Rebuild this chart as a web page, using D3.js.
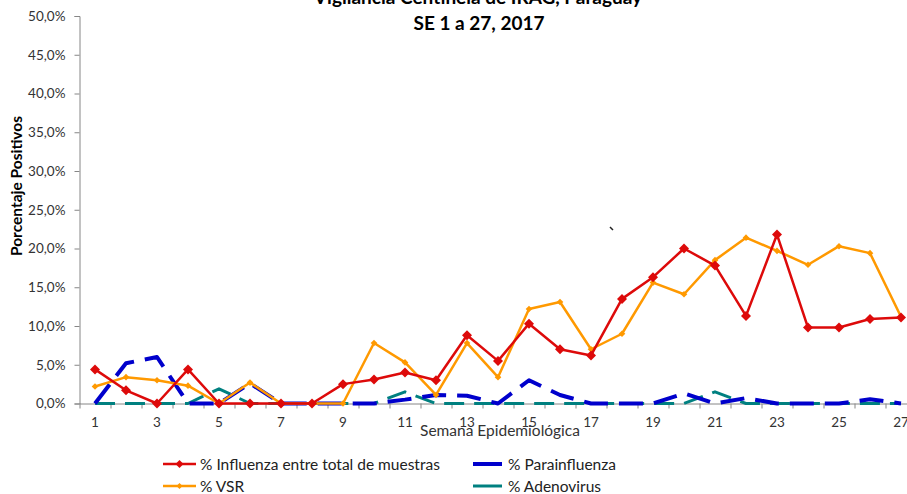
<!DOCTYPE html>
<html>
<head>
<meta charset="utf-8">
<script src="https://cdn.jsdelivr.net/npm/d3@7"></script>
<style>
  body { margin: 0; background: #fff; }
  text { font-family: Lato, "Liberation Sans", sans-serif; fill: #222; }
</style>
</head>
<body>
<div id="chart"></div>
<script>
// semanas epidemiologicas 1..27
var weeks = d3.range(1, 28);
var yTicks = [0, 5, 10, 15, 20, 25, 30, 35, 40, 45, 50];

var influenza = [4.4, 1.7, 0, 4.4, 0, 0, 0, 0, 2.5, 3.1, 4.0, 3.0, 8.8, 5.5, 10.3, 7.0, 6.2, 13.5, 16.3, 20.0, 17.8, 11.3, 21.8, 9.8, 9.8, 10.9, 11.1];
var vsr = [2.2, 3.4, 3.0, 2.3, 0, 2.7, 0, 0, 0, 7.8, 5.3, 1.1, 7.8, 3.4, 12.2, 13.1, 7.0, 9.0, 15.6, 14.1, 18.5, 21.4, 19.7, 17.9, 20.3, 19.4, 11.2];
var parainfluenza = [0, 5.2, 6.0, 0, 0, 2.6, 0, 0, 0, 0, 0.5, 1.1, 1.0, 0, 3.0, 1.1, 0, 0, 0, 1.3, 0, 0.7, 0, 0, 0, 0.55, 0];
var adenovirus = [0, 0, 0, 0, 1.9, 0, 0, 0, 0, 0, 1.5, 0, 0, 0, 0, 0, 0, 0, 0, 0, 1.5, 0, 0, 0, 0, 0, 0];

var svgWidth = 907;
var svgHeight = 494;

var svg = d3.select("#chart")
  .append("svg")
  .attr("width", svgWidth)
  .attr("height", svgHeight);

// scales
var xBand = d3.scaleBand()
  .domain(weeks)
  .range([79.5, 79.5 + 27 * 31]);
var xEdge = d3.scaleLinear()
  .domain([0, 27])
  .range([79.5, 79.5 + 27 * 31]);
var yScale = d3.scaleLinear()
  .domain([0, 50])
  .range([403.5, 16]);

var xc = d => xBand(d) + xBand.bandwidth() / 2;

// y axis
var yAxis = d3.axisLeft(yScale)
  .tickValues(yTicks)
  .tickSize(5)
  .tickPadding(9)
  .tickFormat(d => d.toFixed(1).replace(".", ",") + "%");
var gy = svg.append("g")
  .attr("transform", "translate(79.5,0)")
  .call(yAxis);
gy.selectAll("path, line").attr("stroke", "#868686");
gy.selectAll("text").attr("font-size", "13.5px").style("fill", "#333");

// x axis ticks at category boundaries
var gx = svg.append("g")
  .attr("transform", "translate(0,403.5)")
  .call(d3.axisBottom(xEdge).tickValues(d3.range(28)).tickSize(5).tickSizeOuter(0).tickFormat(""));
gx.selectAll("path, line").attr("stroke", "#868686");

// x labels on odd weeks
svg.append("g").selectAll("text")
  .data(weeks.filter(d => d % 2 == 1))
  .enter()
  .append("text")
  .attr("x", d => xc(d))
  .attr("y", 427)
  .attr("text-anchor", "middle")
  .attr("font-size", "13.5px")
  .style("fill", "#333")
  .text(d => d);

// titles
svg.append("text")
  .attr("x", 478).attr("y", 4)
  .attr("text-anchor", "middle")
  .attr("font-size", "19px").attr("font-weight", "bold")
  .style("fill", "#000")
  .text("Vigilancia Centinela de IRAG, Paraguay");
svg.append("text")
  .attr("x", 479).attr("y", 30)
  .attr("text-anchor", "middle")
  .attr("font-size", "19px").attr("font-weight", "bold")
  .style("fill", "#000")
  .text("SE 1 a 27, 2017");

svg.append("text")
  .attr("transform", "rotate(-90)")
  .attr("x", -186).attr("y", 22)
  .attr("text-anchor", "middle")
  .attr("font-size", "15.5px").attr("font-weight", "bold")
  .style("fill", "#000")
  .text("Porcentaje Positivos");

svg.append("text")
  .attr("x", 500).attr("y", 436)
  .attr("text-anchor", "middle")
  .attr("font-size", "15.5px")
  .style("fill", "#333")
  .text("Semana Epidemiológica");

// small stray mark seen in the original
svg.append("line")
  .attr("x1", 610).attr("y1", 227).attr("x2", 613).attr("y2", 230)
  .attr("stroke", "#222").attr("stroke-width", 1.5);

// series
var line = d3.line()
  .x((d, i) => xc(weeks[i]))
  .y(d => yScale(d));

// square diamond marker, r = half diagonal
function diamondPath(r) {
  return `M0,${-r}L${r},0L0,${r}L${-r},0Z`;
}

function drawSeries(vals, color, width, dash, markerR) {
  svg.append("path")
    .datum(vals)
    .attr("d", line)
    .attr("fill", "none")
    .attr("stroke", color)
    .attr("stroke-width", width)
    .attr("stroke-dasharray", dash)
    .attr("stroke-linejoin", "round");
  if (markerR) {
    svg.append("g").selectAll("path")
      .data(vals)
      .enter()
      .append("path")
      .attr("transform", (d, i) => `translate(${xc(weeks[i])},${yScale(d)})`)
      .attr("d", diamondPath(markerR))
      .attr("fill", color);
  }
}

drawSeries(adenovirus, "#008080", 3, "20,10", 0);
drawSeries(parainfluenza, "#0000CC", 4, "24,11", 0);
drawSeries(vsr, "#FF9900", 2.5, null, 3.3);
drawSeries(influenza, "#DD0A0A", 2.5, null, 5);

// legend
var legendItems = [
  {name: "% Influenza entre total de muestras", color: "#DD0A0A", w: 2.5, marker: 4, x: 163, y: 464},
  {name: "% Parainfluenza", color: "#0000CC", w: 4, marker: 0, x: 473, y: 464},
  {name: "% VSR", color: "#FF9900", w: 2.5, marker: 3, x: 163, y: 486},
  {name: "% Adenovirus", color: "#008080", w: 3, marker: 0, x: 473, y: 486}
];

var lg = svg.append("g").selectAll("g")
  .data(legendItems)
  .enter()
  .append("g")
  .attr("transform", d => `translate(${d.x},${d.y})`);

lg.append("line")
  .attr("x1", 0).attr("x2", d => d.marker ? 33 : 29)
  .attr("stroke", d => d.color)
  .attr("stroke-width", d => d.w);

lg.filter(d => d.marker)
  .append("path")
  .attr("transform", "translate(16.5,0)")
  .attr("d", d => diamondPath(d.marker))
  .attr("fill", d => d.color);

lg.append("text")
  .attr("x", d => d.marker ? 37 : 35)
  .attr("y", 5.5)
  .attr("font-size", "15.5px")
  .style("fill", "#222")
  .text(d => d.name);
</script>
</body>
</html>
